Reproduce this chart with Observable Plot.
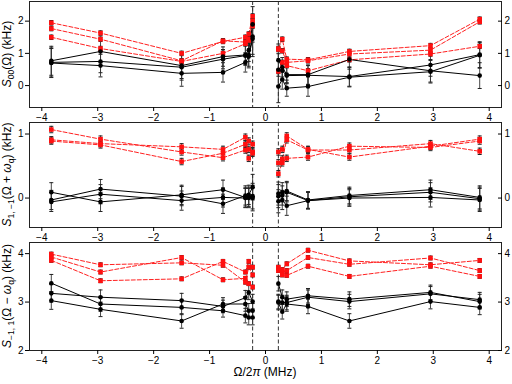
<!DOCTYPE html>
<html><head><meta charset="utf-8">
<script src="https://cdn.jsdelivr.net/npm/d3@7"></script>
<script src="https://cdn.jsdelivr.net/npm/@observablehq/plot@0.6"></script>
<style>
body{margin:0;background:#fff;width:512px;height:384px;overflow:hidden}
svg{display:block}
</style></head><body><div id="chart"></div>
<script>
// x positions (MHz): 7 points below, 7 above the gap
const xNeg = [-3.83, -2.95, -1.5, -0.76, -0.36, -0.30, -0.23];
const xPos = [0.23, 0.30, 0.38, 0.76, 1.5, 2.95, 3.83];
const gapLines = [-0.23, 0.23];
const xTicks = [-4, -3, -2, -1, 0, 1, 2, 3, 4];

// Panel 1: S00(Ω)
const s00Red = [
  [1.95, 1.63, 1.00, 1.37, 1.50, 1.60, 2.15,  1.15, 1.44, 0.82, 0.80, 1.06, 1.24, 2.06],
  [1.77, 1.44, 0.77, 1.39, 1.35, 1.45, 2.00,  1.12, 1.08, 0.72, 0.77, 0.98, 1.10, 1.98],
  [1.50, 1.15, 0.75, 1.00, 1.30, 1.40, 1.85,  0.44, 0.72, 0.62, 0.46, 0.80, 0.98, 1.22]
];
const s00Black = [
  [0.77, 1.06, 0.62, 0.90, 0.95, 1.10, 1.90,  0.79, 0.57, 0.34, 0.34, 0.81, 0.46, 0.31],
  [0.72, 0.75, 0.57, 0.82, 0.93, 0.95, 1.52,  0.49, 0.46, 0.31, 0.32, 0.28, 0.64, 0.96],
  [0.70, 0.62, 0.38, 0.41, 0.72, 0.90, 1.45, -0.03, 0.19, -0.08, -0.03, 0.26, 0.43, 0.94]
];
const s00RedErr = [0.07, 0.07, 0.07, 0.07, 0.07, 0.07, 0.08,  0.07, 0.07, 0.07, 0.07, 0.07, 0.07, 0.07];
const s00BlackErr = [0.45, 0.35, 0.40, 0.30, 0.30, 0.35, 0.55,  0.50, 0.30, 0.25, 0.30, 0.30, 0.35, 0.40];

// Panel 2: S1,-1(Ω + ωq)
const s1m1Red = [
  [1.07, 0.92, 0.72, 0.63, 0.75, 0.62, 0.70,  0.72, 0.76, 0.97, 0.76, 0.64, 0.81, 0.92],
  [0.91, 0.85, 0.80, 0.76, 0.95, 0.89, 0.84,  0.55, 0.61, 0.91, 0.75, 0.75, 0.85, 0.73],
  [0.89, 0.83, 0.57, 0.70, 0.84, 0.76, 0.72,  0.38, 0.55, 0.62, 0.64, 0.81, 0.79, 0.89]
];
const s1m1Black = [
  [0.09, -0.06, 0.05, 0.13, 0.01, 0.05, 0.17,  0.07, 0.09, 0.11, -0.03, 0.04, 0.13, 0.01],
  [-0.03, 0.14, 0.03, -0.09, 0.04, 0.00, 0.00,  0.03, 0.04, 0.09, -0.04, 0.02, 0.09, -0.01],
  [-0.06, 0.06, -0.04, 0.01, 0.00, 0.02, 0.03, -0.05, -0.03, -0.12, -0.04, 0.00, 0.01, -0.03]
];
const s1m1RedErr = [0.05, 0.05, 0.05, 0.05, 0.05, 0.05, 0.05,  0.05, 0.05, 0.05, 0.05, 0.05, 0.05, 0.05];
const s1m1BlackErr = [0.15, 0.15, 0.15, 0.15, 0.15, 0.15, 0.20,  0.18, 0.15, 0.15, 0.13, 0.13, 0.15, 0.18];

// Panel 3: S-1,1(Ω − ωq)
const sm11Red = [
  [3.93, 3.62, 3.92, 3.46, 3.49, 3.38, 3.31,  3.72, 3.67, 3.79, 4.07, 3.85, 3.77, 3.86],
  [3.99, 3.77, 3.81, 3.76, 3.41, 3.72, 3.56,  3.69, 3.62, 3.65, 3.92, 3.78, 3.91, 3.65],
  [3.86, 3.44, 3.48, 3.84, 3.62, 3.84, 3.72,  3.65, 3.56, 3.55, 3.74, 3.53, 3.74, 3.53]
];
const sm11Black = [
  [3.39, 2.96, 2.89, 2.82, 2.72, 2.68, 2.68,  3.38, 3.10, 3.06, 3.13, 3.06, 3.20, 3.01],
  [3.18, 3.10, 3.03, 2.91, 3.09, 3.20, 3.01,  3.01, 2.99, 2.99, 3.10, 3.01, 3.17, 3.05],
  [3.03, 2.85, 2.61, 2.96, 2.96, 2.82, 2.82,  2.99, 2.80, 2.96, 2.91, 2.61, 3.01, 2.89]
];
const sm11RedErr = [0.04, 0.04, 0.04, 0.04, 0.04, 0.04, 0.04,  0.04, 0.04, 0.04, 0.04, 0.04, 0.04, 0.04];
const sm11BlackErr = [0.18, 0.15, 0.15, 0.13, 0.15, 0.15, 0.15,  0.15, 0.15, 0.15, 0.15, 0.15, 0.15, 0.15];

const xs = [...xNeg, ...xPos];
const FONT = "'Liberation Sans', Arial, Helvetica, sans-serif";
const cap = {draw(ctx, size) { const w = Math.sqrt(size / Math.PI); ctx.moveTo(-w, 0); ctx.lineTo(w, 0); }};
const intFmt = d => (d < 0 ? "−" : "") + Math.abs(d);

function rowsOf(series, err, kind) {
  const out = [];
  series.forEach((vals, i) => vals.forEach((v, j) => out.push({
    x: xs[j], y: v, e: err[j], key: kind + i + (j < xNeg.length ? "n" : "p"), kind
  })));
  return out;
}

function panel({red, black, redErr, blackErr, yDomain, yTicks, height, marginTop, marginBottom, label}) {
  const R = rowsOf(red, redErr, "r");
  const B = rowsOf(black, blackErr, "b");
  const all = [...R, ...B];
  const plot = Plot.plot({
    width: 512, height, marginLeft: 29, marginRight: 11, marginTop, marginBottom,
    style: {fontFamily: FONT, fontSize: "10px", color: "black", background: "white", overflow: "visible"},
    x: {domain: [-4.22, 4.22], label: null},
    y: {domain: yDomain, label: null},
    marks: [
      Plot.ruleX(gapLines, {stroke: "#333", strokeWidth: 1, strokeDasharray: "4,2.5"}),
      Plot.line(R, {x: "x", y: "y", z: "key", stroke: "#ff2020", strokeWidth: 1, strokeDasharray: "4,2"}),
      Plot.line(B, {x: "x", y: "y", z: "key", stroke: "black", strokeWidth: 1}),
      Plot.ruleX(all, {x: "x", y1: d => d.y - d.e, y2: d => d.y + d.e, stroke: "#333", strokeWidth: 0.9}),
      Plot.dot(all, {x: "x", y: d => d.y + d.e, symbol: cap, r: 2, stroke: "#222", strokeWidth: 1}),
      Plot.dot(all, {x: "x", y: d => d.y - d.e, symbol: cap, r: 2, stroke: "#222", strokeWidth: 1}),
      Plot.dot(R, {x: "x", y: "y", symbol: "square", fill: "#ff1010", r: 2.6}),
      Plot.dot(B, {x: "x", y: "y", fill: "black", r: 2.3}),
      Plot.frame({stroke: "#222"}),
      Plot.axisX({ticks: xTicks, tickFormat: intFmt, tickSize: 4, tickPadding: 2, label: null}),
      Plot.axisY({anchor: "left", ticks: yTicks, tickFormat: intFmt, tickSize: 4, tickPadding: 2, label: null}),
      Plot.axisY({anchor: "right", ticks: yTicks, tickFormat: intFmt, tickSize: -4, tickPadding: 7, label: null})
    ]
  });
  const svg = d3.select(plot);
  const cy = marginTop + (height - marginTop - marginBottom) / 2;
  const t = svg.append("text")
    .attr("transform", `translate(11,${cy}) rotate(-90)`)
    .attr("text-anchor", "middle")
    .attr("font-family", FONT).attr("font-size", 12).attr("fill", "black");
  label.forEach(p => {
    const ts = t.append("tspan").text(p.t);
    if (p.i) ts.attr("font-style", "italic");
    if (p.sub) ts.attr("font-size", 8.5).attr("dy", "0.3em");
    if (p.up) ts.attr("dy", "-0.21em");
  });
  return plot;
}

const chart = document.getElementById("chart");
chart.appendChild(panel({
  red: s00Red, black: s00Black, redErr: s00RedErr, blackErr: s00BlackErr,
  yDomain: [-0.68, 2.61], yTicks: [0, 1, 2], height: 122, marginTop: 1, marginBottom: 15,
  label: [{t: "S", i: true}, {t: "00", sub: true}, {t: "(Ω) (kHz)", up: true}]
}));
chart.appendChild(panel({
  red: s1m1Red, black: s1m1Black, redErr: s1m1RedErr, blackErr: s1m1BlackErr,
  yDomain: [-0.46, 1.18], yTicks: [0, 1], height: 120, marginTop: 0, marginBottom: 15,
  label: [{t: "S", i: true}, {t: "1, −1", sub: true}, {t: "(Ω + ", up: true}, {t: "ω", i: true}, {t: "q", sub: true}, {t: ") (kHz)", up: true}]
}));
const p3 = panel({
  red: sm11Red, black: sm11Black, redErr: sm11RedErr, blackErr: sm11BlackErr,
  yDomain: [2, 4.23], yTicks: [2, 3, 4], height: 142, marginTop: 0, marginBottom: 34,
  label: [{t: "S", i: true}, {t: "−1, 1", sub: true}, {t: "(Ω − ", up: true}, {t: "ω", i: true}, {t: "q", sub: true}, {t: ") (kHz)", up: true}]
});
const xl = d3.select(p3).append("text")
  .attr("x", (29 + 501) / 2).attr("y", 134).attr("text-anchor", "middle")
  .attr("font-family", FONT).attr("font-size", 12).attr("fill", "black");
xl.append("tspan").text("Ω/2");
xl.append("tspan").attr("font-style", "italic").text("π");
xl.append("tspan").text(" (MHz)");
chart.appendChild(p3);
</script></body></html>
